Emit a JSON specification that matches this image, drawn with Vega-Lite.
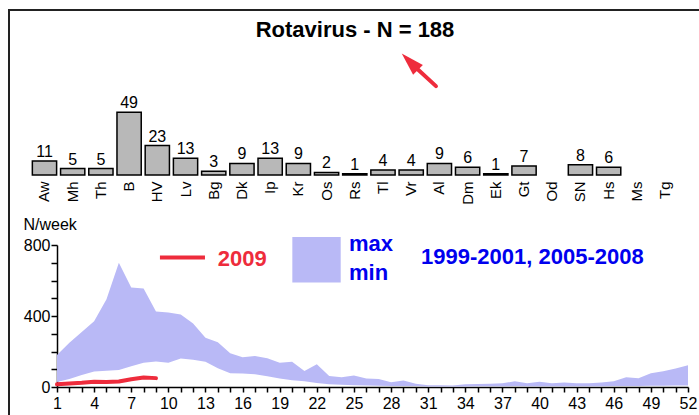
{
  "$schema": "https://vega.github.io/schema/vega-lite/v6.json",
  "width": 690,
  "height": 405,
  "autosize": {"type": "none"},
  "padding": {"left": 9, "top": 10, "right": 0, "bottom": 0},
  "background": "white",
  "title": {
    "text": "Rotavirus - N = 188",
    "font": "Liberation Sans",
    "fontSize": 22,
    "fontWeight": "bold",
    "color": "black",
    "anchor": "middle",
    "frame": "group",
    "baseline": "alphabetic",
    "offset": -49,
    "dx": 1
  },
  "config": {
    "view": {"stroke": "#222222", "strokeWidth": 2, "strokeDash": [690, 1095, 405]},
    "font": "Liberation Sans",
    "axis": {
      "domainColor": "black",
      "tickColor": "black",
      "labelColor": "black",
      "titleColor": "black",
      "grid": false,
      "labelFont": "Liberation Sans",
      "titleFont": "Liberation Sans",
      "labelFontSize": 16,
      "domainWidth": 1.5,
      "tickWidth": 1.5,
      "labelOverlap": false,
      "labelFlush": false,
      "labelBound": false
    }
  },
  "datasets": {
    "regions": [
      {"region": "Aw", "n": 11}, {"region": "Mh", "n": 5}, {"region": "Th", "n": 5},
      {"region": "B", "n": 49}, {"region": "HV", "n": 23}, {"region": "Lv", "n": 13},
      {"region": "Bg", "n": 3}, {"region": "Dk", "n": 9}, {"region": "Ip", "n": 13},
      {"region": "Kr", "n": 9}, {"region": "Os", "n": 2}, {"region": "Rs", "n": 1},
      {"region": "Tl", "n": 4}, {"region": "Vr", "n": 4}, {"region": "Al", "n": 9},
      {"region": "Dm", "n": 6}, {"region": "Ek", "n": 1}, {"region": "Gt", "n": 7},
      {"region": "Od", "n": 0}, {"region": "SN", "n": 8}, {"region": "Hs", "n": 6},
      {"region": "Ms", "n": 0}, {"region": "Tg", "n": 0}
    ],
    "band": [
      {"week": 1, "max": 180, "min": 28}, {"week": 2, "max": 250, "min": 45},
      {"week": 3, "max": 310, "min": 67}, {"week": 4, "max": 370, "min": 88},
      {"week": 5, "max": 495, "min": 92}, {"week": 6, "max": 700, "min": 96},
      {"week": 7, "max": 560, "min": 117}, {"week": 8, "max": 555, "min": 137},
      {"week": 9, "max": 425, "min": 144}, {"week": 10, "max": 420, "min": 137},
      {"week": 11, "max": 408, "min": 160}, {"week": 12, "max": 358, "min": 153},
      {"week": 13, "max": 278, "min": 142}, {"week": 14, "max": 252, "min": 105},
      {"week": 15, "max": 190, "min": 78}, {"week": 16, "max": 168, "min": 76},
      {"week": 17, "max": 174, "min": 72}, {"week": 18, "max": 162, "min": 60},
      {"week": 19, "max": 137, "min": 48}, {"week": 20, "max": 142, "min": 38},
      {"week": 21, "max": 90, "min": 32}, {"week": 22, "max": 128, "min": 23},
      {"week": 23, "max": 62, "min": 15}, {"week": 24, "max": 55, "min": 13},
      {"week": 25, "max": 65, "min": 10}, {"week": 26, "max": 48, "min": 8},
      {"week": 27, "max": 45, "min": 7}, {"week": 28, "max": 27, "min": 6},
      {"week": 29, "max": 36, "min": 6}, {"week": 30, "max": 18, "min": 5},
      {"week": 31, "max": 10, "min": 3}, {"week": 32, "max": 10, "min": 3},
      {"week": 33, "max": 9, "min": 3}, {"week": 34, "max": 15, "min": 3},
      {"week": 35, "max": 17, "min": 4}, {"week": 36, "max": 19, "min": 4},
      {"week": 37, "max": 21, "min": 4}, {"week": 38, "max": 32, "min": 5},
      {"week": 39, "max": 21, "min": 4}, {"week": 40, "max": 30, "min": 4},
      {"week": 41, "max": 21, "min": 4}, {"week": 42, "max": 25, "min": 4},
      {"week": 43, "max": 21, "min": 4}, {"week": 44, "max": 21, "min": 4},
      {"week": 45, "max": 26, "min": 4}, {"week": 46, "max": 32, "min": 5},
      {"week": 47, "max": 55, "min": 6}, {"week": 48, "max": 50, "min": 6},
      {"week": 49, "max": 77, "min": 7}, {"week": 50, "max": 89, "min": 7},
      {"week": 51, "max": 104, "min": 8}, {"week": 52, "max": 123, "min": 8}
    ],
    "y2009": [
      {"week": 1, "cases": 15}, {"week": 2, "cases": 20}, {"week": 3, "cases": 24},
      {"week": 4, "cases": 30}, {"week": 5, "cases": 28}, {"week": 6, "cases": 31},
      {"week": 7, "cases": 44}, {"week": 8, "cases": 53}, {"week": 9, "cases": 50}
    ]
  },
  "layer": [
    {
      "data": {"name": "regions"},
      "transform": [{"filter": "datum.n > 0"}],
      "encoding": {
        "x": {
          "field": "region",
          "type": "nominal",
          "sort": null,
          "title": null,
          "scale": {
            "domain": ["Aw", "Mh", "Th", "B", "HV", "Lv", "Bg", "Dk", "Ip", "Kr", "Os", "Rs", "Tl", "Vr", "Al", "Dm", "Ek", "Gt", "Od", "SN", "Hs", "Ms", "Tg"],
            "range": [23.35, 668.2],
            "paddingInner": 0.14,
            "paddingOuter": 0
          },
          "axis": {
            "orient": "bottom",
            "offset": -240,
            "domain": false,
            "ticks": false,
            "labelAngle": -90,
            "labelPadding": 6,
            "labelFontSize": 15
          }
        },
        "y": {
          "field": "n",
          "type": "quantitative",
          "scale": {"domain": [0, 50], "range": [165, 101], "nice": false},
          "axis": null
        }
      },
      "layer": [
        {"mark": {"type": "bar", "fill": "#b8b8b8", "stroke": "black", "strokeWidth": 1.5}},
        {
          "mark": {"type": "text", "baseline": "alphabetic", "dy": -4, "fontSize": 16, "color": "black", "font": "Liberation Sans"},
          "encoding": {"text": {"field": "n", "type": "quantitative"}}
        }
      ]
    },
    {
      "layer": [
        {
          "data": {"name": "band"},
          "mark": {"type": "area", "fill": "#b9b9f6", "opacity": 1},
          "encoding": {
            "x": {
              "field": "week",
              "type": "quantitative",
              "title": null,
              "scale": {"domain": [1, 52], "range": [48, 679], "nice": false, "zero": false},
              "axis": {
                "orient": "bottom",
                "offset": -28,
                "values": [1,2,3,4,5,6,7,8,9,10,11,12,13,14,15,16,17,18,19,20,21,22,23,24,25,26,27,28,29,30,31,32,33,34,35,36,37,38,39,40,41,42,43,44,45,46,47,48,49,50,51,52],
                "tickCount": 100,
                "format": "d",
                "labelExpr": "(datum.value - 1) % 3 == 0 ? datum.label : ''",
                "tickSize": 5,
                "labelPadding": 3,
                "labelFontSize": 16,
                "labelOverlap": false,
                "labelFlush": false
              }
            },
            "y": {
              "field": "max",
              "type": "quantitative",
              "title": "N/week",
              "scale": {"domain": [0, 800], "range": [377, 235], "nice": false},
              "axis": {
                "orient": "left",
                "offset": -48,
                "values": [0, 100, 200, 300, 400, 500, 600, 700, 800],
                "tickCount": 100,
                "format": "d",
                "labelExpr": "datum.value % 400 == 0 ? datum.label : ''",
                "labelOverlap": false,
                "tickSize": 6,
                "labelPadding": 1,
                "labelFontSize": 16,
                "titleAngle": 0,
                "titleAlign": "left",
                "titleBaseline": "alphabetic",
                "titleX": -34,
                "titleY": 219,
                "titleFontSize": 16,
                "titleFontWeight": "normal"
              }
            },
            "y2": {"field": "min"}
          }
        },
        {
          "data": {"name": "y2009"},
          "mark": {"type": "line", "color": "#ee2c3c", "strokeWidth": 4, "strokeCap": "round", "strokeJoin": "round"},
          "encoding": {
            "x": {"field": "week", "type": "quantitative", "title": null},
            "y": {"field": "cases", "type": "quantitative", "title": "N/week"}
          }
        },
        {
          "data": {"values": [{}]},
          "mark": {"type": "rule", "color": "#ee2c3c", "strokeWidth": 4},
          "encoding": {
            "x": {"datum": 9.32, "type": "quantitative"},
            "x2": {"datum": 12.96},
            "y": {"datum": 730, "type": "quantitative"}
          }
        },
        {
          "data": {"values": [{}]},
          "mark": {"type": "text", "align": "left", "baseline": "alphabetic", "fontSize": 22, "fontWeight": "bold", "color": "#ee2c3c", "font": "Liberation Sans"},
          "encoding": {
            "x": {"datum": 14.0, "type": "quantitative"},
            "y": {"datum": 683, "type": "quantitative"},
            "text": {"value": "2009"}
          }
        },
        {
          "data": {"values": [{}]},
          "mark": {"type": "rect", "fill": "#b9b9f6"},
          "encoding": {
            "x": {"datum": 20.02, "type": "quantitative"},
            "x2": {"datum": 23.93},
            "y": {"datum": 845, "type": "quantitative"},
            "y2": {"datum": 589}
          }
        },
        {
          "data": {"values": [{}]},
          "mark": {"type": "text", "align": "left", "baseline": "alphabetic", "fontSize": 22, "fontWeight": "bold", "color": "#0000ee", "font": "Liberation Sans"},
          "encoding": {
            "x": {"datum": 24.6, "type": "quantitative"},
            "y": {"datum": 766, "type": "quantitative"},
            "text": {"value": "max"}
          }
        },
        {
          "data": {"values": [{}]},
          "mark": {"type": "text", "align": "left", "baseline": "alphabetic", "fontSize": 22, "fontWeight": "bold", "color": "#0000ee", "font": "Liberation Sans"},
          "encoding": {
            "x": {"datum": 24.6, "type": "quantitative"},
            "y": {"datum": 604, "type": "quantitative"},
            "text": {"value": "min"}
          }
        },
        {
          "data": {"values": [{}]},
          "mark": {"type": "text", "align": "left", "baseline": "alphabetic", "fontSize": 22, "fontWeight": "bold", "color": "#0000ee", "font": "Liberation Sans"},
          "encoding": {
            "x": {"datum": 30.42, "type": "quantitative"},
            "y": {"datum": 693, "type": "quantitative"},
            "text": {"value": "1999-2001, 2005-2008"}
          }
        },
        {
          "data": {"values": [{}]},
          "mark": {"type": "rule", "color": "#ee2c3c", "strokeWidth": 4, "strokeCap": "round"},
          "encoding": {
            "x": {"datum": 29.93, "type": "quantitative"},
            "x2": {"datum": 31.63},
            "y": {"datum": 1804, "type": "quantitative"},
            "y2": {"datum": 1695}
          }
        },
        {
          "data": {"values": [{}]},
          "mark": {"type": "point", "shape": "M0,-1L0.6,1L-0.6,1Z", "filled": true, "color": "#ee2c3c", "opacity": 1, "size": 529, "angle": 315},
          "encoding": {
            "x": {"datum": 29.52, "type": "quantitative"},
            "y": {"datum": 1833, "type": "quantitative"}
          }
        }
      ]
    }
  ],
  "resolve": {"scale": {"x": "independent", "y": "independent"}}
}
